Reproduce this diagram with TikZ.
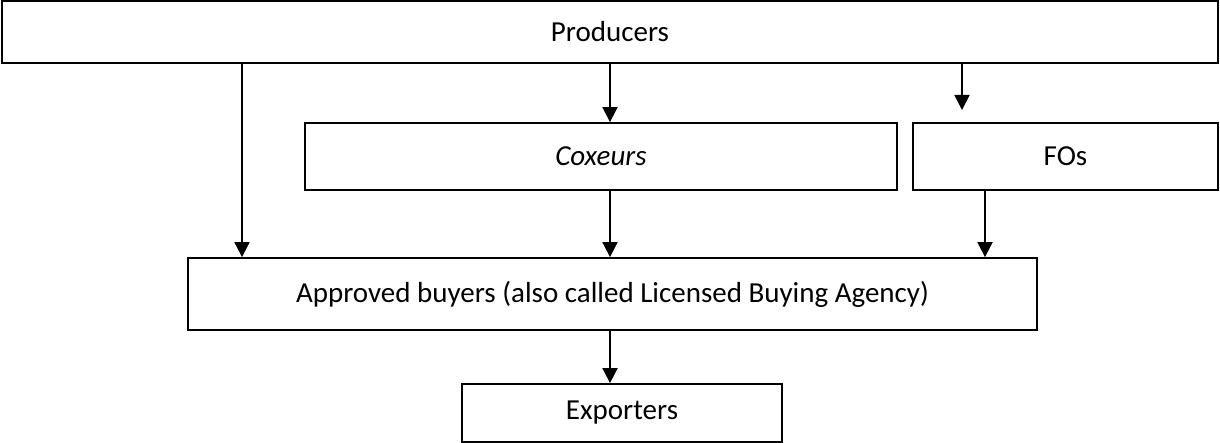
\documentclass[tikz,border=0pt]{standalone}
\usepackage{fontspec}
\setmainfont{Carlito}
\usetikzlibrary{arrows.meta}
\begin{document}
\begin{tikzpicture}[x=1pt,y=-1pt,
  box/.style={draw=black, line width=1.8pt, inner sep=0pt, font=\fontsize{29}{34}\selectfont},
  arr/.style={line width=1.8pt, -{Triangle[width=15pt,length=15pt]}}]
\useasboundingbox (0,0) rectangle (1220,443);
\node[box, minimum width=1216pt, minimum height=62pt] (prod) at (610,32) {Producers};
\node[box, minimum width=592pt, minimum height=67pt] (cox) at (601,156.5) {\itshape Coxeurs};
\node[box, minimum width=305pt, minimum height=67pt] (fo) at (1065.5,156.5) {FOs};
\node[box, minimum width=849pt, minimum height=72pt] (appr) at (612.5,294) {Approved buyers (also called Licensed Buying Agency)};
\node[box, minimum width=320pt, minimum height=58pt] (exp) at (622,413) {Exporters};
\coordinate (xa) at (242,0);
\coordinate (xb) at (610,0);
\coordinate (xc) at (985,0);
\coordinate (foend) at (962,110);
\draw[arr] (prod.south -| xa) -- (appr.north -| xa);
\draw[arr] (prod.south -| xb) -- (cox.north -| xb);
\draw[arr] (prod.south -| foend) -- (foend);
\draw[arr] (cox.south -| xb) -- (appr.north -| xb);
\draw[arr] (fo.south -| xc) -- (appr.north -| xc);
\draw[arr] (appr.south -| xb) -- (exp.north -| xb);
\end{tikzpicture}
\end{document}
